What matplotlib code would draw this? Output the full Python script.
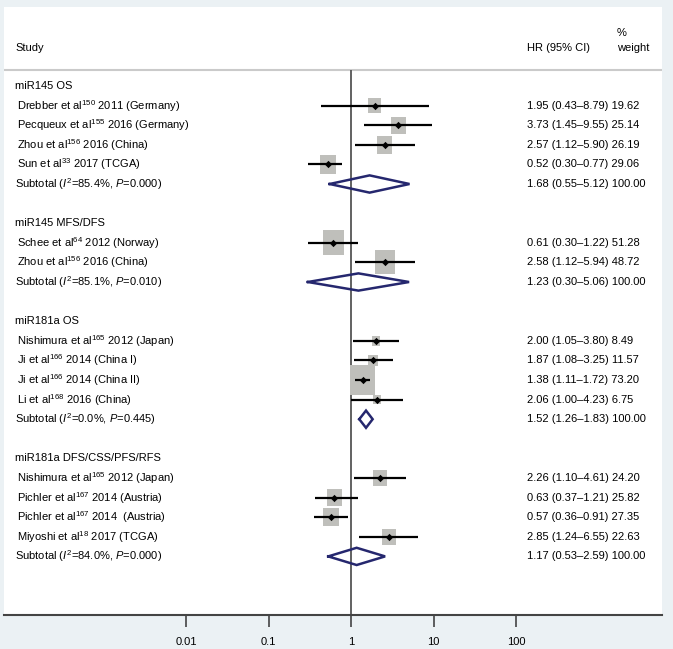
import matplotlib
matplotlib.use('Agg')
import matplotlib.pyplot as plt
import matplotlib.transforms as mtransforms
from matplotlib.path import Path
from matplotlib.ticker import NullLocator
import numpy as np

plt.rcParams['font.family'] = ['Liberation Sans', 'DejaVu Sans']
plt.rcParams['mathtext.fontset'] = 'custom'
plt.rcParams['mathtext.rm'] = 'Liberation Sans'
plt.rcParams['mathtext.it'] = 'Liberation Sans:italic'
plt.rcParams['mathtext.bf'] = 'Liberation Sans:bold'

# ---------------- data ----------------
group_names = ["miR145 OS", "miR145 MFS/DFS", "miR181a OS", "miR181a DFS/CSS/PFS/RFS"]

study_labels = [
    ["Drebber et al$^{150}$ 2011 (Germany)",
     "Pecqueux et al$^{155}$ 2016 (Germany)",
     "Zhou et al$^{156}$ 2016 (China)",
     "Sun et al$^{33}$ 2017 (TCGA)"],
    ["Schee et al$^{64}$ 2012 (Norway)",
     "Zhou et al$^{156}$ 2016 (China)"],
    ["Nishimura et al$^{165}$ 2012 (Japan)",
     "Ji et al$^{166}$ 2014 (China I)",
     "Ji et al$^{166}$ 2014 (China II)",
     "Li et al$^{168}$ 2016 (China)"],
    ["Nishimura et al$^{165}$ 2012 (Japan)",
     "Pichler et al$^{167}$ 2014 (Austria)",
     "Pichler et al$^{167}$ 2014  (Austria)",
     "Miyoshi et al$^{18}$ 2017 (TCGA)"],
]

hr = [[1.95, 3.73, 2.57, 0.52], [0.61, 2.58], [2.00, 1.87, 1.38, 2.06], [2.26, 0.63, 0.57, 2.85]]
ci_lo = [[0.43, 1.45, 1.12, 0.30], [0.30, 1.12], [1.05, 1.08, 1.11, 1.00], [1.10, 0.37, 0.36, 1.24]]
ci_hi = [[8.79, 9.55, 5.90, 0.77], [1.22, 5.94], [3.80, 3.25, 1.72, 4.23], [4.61, 1.21, 0.91, 6.55]]
weights = [[19.62, 25.14, 26.19, 29.06], [51.28, 48.72], [8.49, 11.57, 73.20, 6.75], [24.20, 25.82, 27.35, 22.63]]

sub_hr = [1.68, 1.23, 1.52, 1.17]
sub_lo = [0.55, 0.30, 1.26, 0.53]
sub_hi = [5.12, 5.06, 1.83, 2.59]
sub_i2 = ["85.4", "85.1", "0.0", "84.0"]
sub_p = ["0.000", "0.010", "0.445", "0.000"]

tick_values = [0.01, 0.1, 1, 10, 100]
tick_labels = ["0.01", "0.1", "1", "10", "100"]

# ---------------- styling ----------------
BG = '#EBF1F4'
BOX = '#BFBFBB'
NAVY = '#25276E'
FS = 8

W, H = 673, 649
fig = plt.figure(figsize=(W / 100, H / 100), dpi=100, facecolor=BG)
left_px, right_px, top_px, bot_px = 4, 662, 7, 615
ax = fig.add_axes([left_px / W, 1 - bot_px / H, (right_px - left_px) / W, (bot_px - top_px) / H])
ax.set_facecolor('white')

# x: log scale, 1 at px 351, a decade = 82.5 px
one_px, dec_px = 351, 82.5
ax.set_xscale('log')
ax.set_xlim(10 ** ((left_px - one_px) / dec_px), 10 ** ((right_px - one_px) / dec_px))
# y: row units, row 0 at px 86, 19.6 px per row
row0_px, row_px = 86, 19.6
ax.set_ylim((bot_px - row0_px) / row_px, (top_px - row0_px) / row_px)

def fx(px):
    return (px - left_px) / (right_px - left_px)

def ry(px):
    return (px - row0_px) / row_px

trans = mtransforms.blended_transform_factory(ax.transAxes, ax.transData)

# header
ax.text(fx(15), ry(48), "Study", transform=trans, fontsize=FS, va='center', ha='left')
ax.text(fx(527), ry(48), "HR (95% CI)", transform=trans, fontsize=FS, va='center', ha='left')
ax.text(fx(617), ry(33), "%", transform=trans, fontsize=FS, va='center', ha='left')
ax.text(fx(617), ry(48), "weight", transform=trans, fontsize=FS, va='center', ha='left')
ax.axhline(ry(70), color='#CACACA', lw=1.5, zorder=1)

# vertical null line
ax.vlines(1, ry(70), ax.get_ylim()[0], color='#555555', lw=1.3, zorder=1)

# box marker (slightly taller than wide)
aspect = 1.17
rect = Path([(-1, -aspect), (1, -aspect), (1, aspect), (-1, aspect), (-1, -aspect)],
            [Path.MOVETO, Path.LINETO, Path.LINETO, Path.LINETO, Path.CLOSEPOLY])

base = 0
for g in range(len(group_names)):
    ax.text(fx(15), base, group_names[g], transform=trans, fontsize=FS, va='center', ha='left')
    n = len(hr[g])
    ys = [base + 1 + i for i in range(n)]
    for i in range(n):
        y = ys[i]
        ax.text(fx(17), y, study_labels[g][i], transform=trans, fontsize=FS, va='center', ha='left')
        ax.text(fx(527), y, f"{hr[g][i]:.2f} ({ci_lo[g][i]:.2f}\u2013{ci_hi[g][i]:.2f}) {weights[g][i]:.2f}",
                transform=trans, fontsize=FS, va='center', ha='left')
    # boxes
    box_h_pt = [aspect * 2.95 * np.sqrt(w) * 0.72 for w in weights[g]]
    ax.scatter(hr[g], ys, marker=rect, s=[h ** 2 for h in box_h_pt], color=BOX, linewidths=0, zorder=2)
    ax.hlines(ys, ci_lo[g], ci_hi[g], color='black', lw=1.6, zorder=3)
    ax.scatter(hr[g], ys, marker='D', s=14, color='black', linewidths=0, zorder=4)
    # subtotal
    ysub = base + n + 1
    ax.text(fx(15), ysub, f"Subtotal ($I^2$={sub_i2[g]}%, $P$={sub_p[g]})", transform=trans,
            fontsize=FS, va='center', ha='left')
    ax.text(fx(527), ysub, f"{sub_hr[g]:.2f} ({sub_lo[g]:.2f}\u2013{sub_hi[g]:.2f}) 100.00",
            transform=trans, fontsize=FS, va='center', ha='left')
    hh = 0.44
    ax.plot([sub_lo[g], sub_hr[g], sub_hi[g], sub_hr[g], sub_lo[g]],
            [ysub, ysub - hh, ysub, ysub + hh, ysub], color=NAVY, lw=1.8, zorder=3,
            solid_joinstyle='miter')
    base = base + n + 3

# axes styling
for s in ['top', 'left', 'right']:
    ax.spines[s].set_visible(False)
ax.spines['bottom'].set_color('#444444')
ax.spines['bottom'].set_linewidth(1.5)
ax.set_xticks(tick_values)
ax.set_xticklabels(tick_labels)
ax.xaxis.set_minor_locator(NullLocator())
ax.tick_params(axis='x', which='major', direction='out', length=8.6, width=1.2,
               color='#444444', pad=7, labelsize=FS)
ax.set_yticks([])

fig.savefig('out.png', dpi=100, facecolor=BG)
